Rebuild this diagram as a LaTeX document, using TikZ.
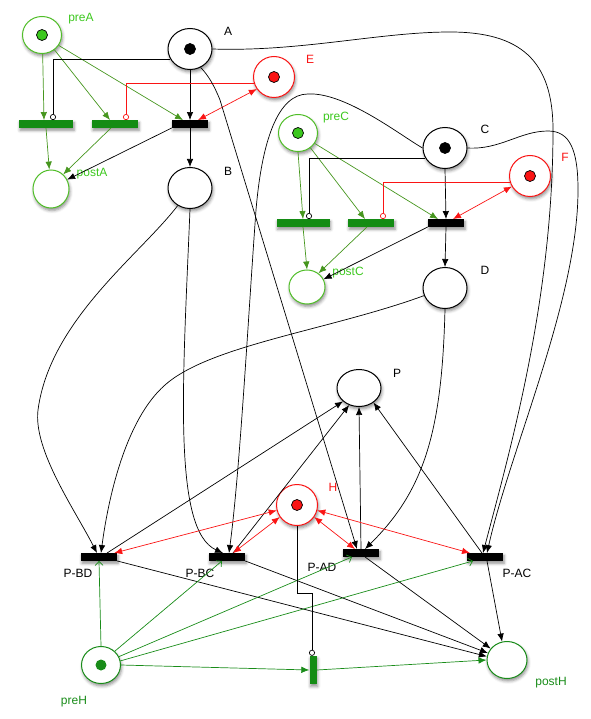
\documentclass[tikz,border=0pt]{standalone}
\usepackage{fontspec}
\setmainfont{Liberation Sans}
\usetikzlibrary{arrows.meta, calc, shapes.geometric, shadows.blur}
\definecolor{pnred}{RGB}{250,20,20}
\definecolor{lgreen}{RGB}{80,190,40}
\definecolor{tokgreen}{RGB}{60,200,30}
\definecolor{bargreen}{RGB}{20,140,20}
\definecolor{agreen}{RGB}{70,150,30}
\definecolor{dgreen}{RGB}{25,140,25}
\tikzset{
  place/.style={
    ellipse, draw=black, line width=1pt, fill=white, inner sep=0pt,
    minimum width=44pt, minimum height=41pt,
    blur shadow={shadow xshift=1pt, shadow yshift=-2.5pt, shadow blur radius=3pt, shadow opacity=45}
  },
  gplace/.style={place, draw=lgreen, minimum width=39pt, minimum height=37pt},
  hplace/.style={place, draw=dgreen, minimum width=39pt, minimum height=37pt},
  rplace/.style={place, draw=pnred, minimum width=41pt, minimum height=41pt},
  tok/.style={path picture={\filldraw[fill=#1, draw=black, line width=0.7pt]
    (path picture bounding box.center) circle (5.5pt);}},
  trans/.style={
    rectangle, fill=black, inner sep=0pt, minimum width=36pt, minimum height=7.5pt,
    blur shadow={shadow xshift=1pt, shadow yshift=-2.5pt, shadow blur radius=3pt, shadow opacity=45}
  },
  gtrans/.style={trans, fill=bargreen},
  arc/.style={draw=black, line width=0.7pt, -{Latex[length=8pt, width=6.5pt]}},
  garc/.style={arc, draw=agreen},
  hgarc/.style={draw=dgreen, line width=0.7pt, -{Straight Barb[length=4pt, width=8pt]}},
  hgarcf/.style={arc, draw=dgreen},
  rarc/.style={draw=pnred, line width=0.7pt, {Latex[length=8pt, width=6.5pt]}-{Latex[length=8pt, width=6.5pt]}},
  inhib/.style={draw=black, line width=0.7pt, -{Circle[open, length=6pt]}},
  rinhib/.style={inhib, draw=pnred},
  lbl/.style={font=\fontsize{12}{14}\selectfont},
}
\begin{document}
\begin{tikzpicture}[x=1pt, y=-1pt]
  \useasboundingbox (0,0) rectangle (590,719);

  % places
  \node[gplace, tok=tokgreen] (preA) at (42,35) {};
  \node[place, tok=black] (A) at (190,49) {};
  \node[rplace, tok=pnred] (E) at (274,77) {};
  \node[place] (B) at (190,188) {};
  \node[gplace, minimum width=36pt, minimum height=38pt] (postA) at (51,189) {};
  \node[gplace, tok=tokgreen] (preC) at (298,133) {};
  \node[place, tok=black] (C) at (445,148) {};
  \node[rplace, tok=pnred] (F) at (530,176) {};
  \node[gplace, minimum width=36pt, minimum height=34pt] (postC) at (307,287) {};
  \node[place] (D) at (445,288) {};
  \node[place, minimum height=37pt] (P) at (359,388) {};
  \node[rplace, tok=pnred] (H) at (297,505) {};
  \node[hplace, path picture={\fill[dgreen] (path picture bounding box.center) circle (5.5pt);}] (preH) at (101,665) {};
  \node[hplace, minimum width=40pt] (postH) at (507,660) {};

  % transitions
  \node[gtrans, minimum width=54pt] (tA1) at (46,124) {};
  \node[gtrans, minimum width=46pt] (tA2) at (115,124) {};
  \node[trans] (tA) at (190,124) {};
  \node[gtrans, minimum width=53pt] (tC1) at (303,223) {};
  \node[gtrans, minimum width=46pt] (tC2) at (371,223) {};
  \node[trans] (tC) at (446,223) {};
  \node[trans] (PBD) at (99,557) {};
  \node[trans] (PBC) at (227,557) {};
  \node[trans] (PAD) at (361,553) {};
  \node[trans] (PAC) at (485,557) {};
  \node[gtrans, minimum width=7pt, minimum height=28pt] (tH) at (313,670) {};

  % labels
  \node[lbl, text=tokgreen] (lpreA) at (81,19) {preA};
  \node[lbl] (lA) at (228,31) {A};
  \node[lbl, text=pnred] (lE) at (310,59) {E};
  \node[lbl] (lB) at (228,171) {B};
  \node[lbl, text=tokgreen] (lpostA) at (92,174) {postA};
  \node[lbl, text=tokgreen] (lpreC) at (336,118) {preC};
  \node[lbl] (lC) at (485,129) {C};
  \node[lbl, text=pnred] (lF) at (565,157) {F};
  \node[lbl, text=tokgreen] (lpostC) at (348,273) {postC};
  \node[lbl] (lD) at (485,270) {D};
  \node[lbl] (lP) at (397,373) {P};
  \node[lbl, text=pnred] (lH) at (333,487) {H};
  \node[lbl] (lPBD) at (78,573) {P-BD};
  \node[lbl] (lPBC) at (200,573) {P-BC};
  \node[lbl] (lPAD) at (322,567) {P-AD};
  \node[lbl] (lPAC) at (517,573) {P-AC};
  \node[lbl, text=dgreen] (lpreH) at (74,702) {preH};
  \node[lbl, text=dgreen] (lpostH) at (551,683) {postH};

  % A group
  \draw[garc] (preA.-88) -- ([xshift=-2pt]tA1.north);
  \draw[garc] (preA.-50) -- ([xshift=-5pt]tA2.north);
  \draw[garc] (preA.-32) -- ([xshift=-7pt]tA.north);
  \draw[arc] (A.south) -- (tA.north);
  \draw[arc] (tA.south) -- (B.north);
  \draw[rarc] (E.215) -- ([xshift=8pt]tA.north);
  \draw[inhib] (A.207) -| ([xshift=7pt]tA1.north);
  \draw[rinhib] (E.197) -| ([xshift=11pt]tA2.north);
  \draw[arc] (tA.south west) -- (postA.30);
  \draw[garc] (tA1.south) -- (postA.95);
  \draw[garc] ([xshift=-4pt]tA2.south) -- (postA.50);

  % C group
  \draw[garc] (preC.south) -- (tC1.north);
  \draw[garc] (preC.-50) -- ([xshift=-6pt]tC2.north);
  \draw[garc] (preC.-32) -- ([xshift=-8pt]tC.north);
  \draw[arc] (C.south) -- (tC.north);
  \draw[arc] (tC.south) -- (D.north);
  \draw[rarc] (F.210) -- ([xshift=7pt]tC.north);
  \draw[inhib] (C.207) -| ([xshift=6pt]tC1.north);
  \draw[rinhib] (F.197) -| ([xshift=12pt]tC2.north);
  \draw[arc] (tC.south west) -- (postC.25);
  \draw[garc] (tC1.south) -- (postC.north);
  \draw[garc] ([xshift=-4pt]tC2.south) -- (postC.50);

  % long arcs to the P transitions
  \draw[arc] (A.east) .. controls (300,52) and (380,32) .. (450,32)
    .. controls (520,32) and (553,60) .. (553,130)
    .. controls (553,300) and (510,450) .. ([xshift=-2pt]PAC.north);
  \draw[arc] (C.east) .. controls (500,150) and (520,131) .. (548,131)
    .. controls (570,131) and (578,150) .. (578,190)
    .. controls (578,300) and (510,450) .. ([xshift=2pt]PAC.north);
  \draw[arc] (A.-60) .. controls (208,75) and (214,85) .. (220,100) -- ([xshift=-4pt]PAD.north);
  \draw[arc] (C.west) .. controls (400,135) and (345,92) .. (308,94)
    .. controls (278,94) and (262,140) .. (256,210)
    .. controls (248,320) and (240,470) .. ([xshift=2pt]PBC.north);
  \draw[arc] (B.south) .. controls (183,380) and (172,530) .. ([xshift=-4pt]PBC.north);
  \draw[arc] (B.-125) .. controls (140,255) and (50,320) .. (38,410)
    .. controls (33,450) and (75,510) .. ([xshift=-2pt]PBD.north);
  \draw[arc] (D.200) .. controls (330,330) and (210,345) .. (165,385)
    .. controls (125,420) and (108,500) .. ([xshift=2pt]PBD.north);
  \draw[arc] (D.south) .. controls (442,430) and (425,490) .. ([xshift=4pt]PAD.north);

  % resource P and H
  \draw[arc] ([xshift=8pt]PBD.north) -- (P.220);
  \draw[arc] ([xshift=6pt]PBC.north) -- (P.240);
  \draw[arc] (PAD.north) -- (P.south);
  \draw[arc] ([xshift=-3pt]PAC.north) -- (P.-45);
  \draw[rarc] (H.195) -- ([xshift=-3pt]PBD.north east);
  \draw[rarc] (H.215) -- ([xshift=6pt]PBC.north);
  \draw[rarc] (H.-35) -- ([xshift=-6pt]PAD.north);
  \draw[rarc] (H.-15) -- ([xshift=-15pt]PAC.north);

  % outputs to postH
  \draw[arc] (PBD.south east) -- (postH.170);
  \draw[arc] (PBC.south east) -- (postH.160);
  \draw[arc] ([xshift=4pt]PAD.south) -- (postH.145);
  \draw[arc] ([xshift=2pt]PAC.south) -- (postH.105);

  % preH
  \draw[hgarc] (preH.north) -- (PBD.south);
  \draw[hgarc] (preH.45) -- ([xshift=-5pt]PBC.south);
  \draw[hgarc] (preH.25) -- ([xshift=-9pt]PAD.south);
  \draw[hgarc] (preH.12) -- ([xshift=-12pt]PAC.south);
  \draw[hgarcf] (preH.east) -- (tH.west);
  \draw[hgarcf] (tH.east) -- (postH.west);
  \draw[inhib] (H.south) -- ++(0,67) -| ([xshift=-1pt]tH.north);
\end{tikzpicture}
\end{document}
